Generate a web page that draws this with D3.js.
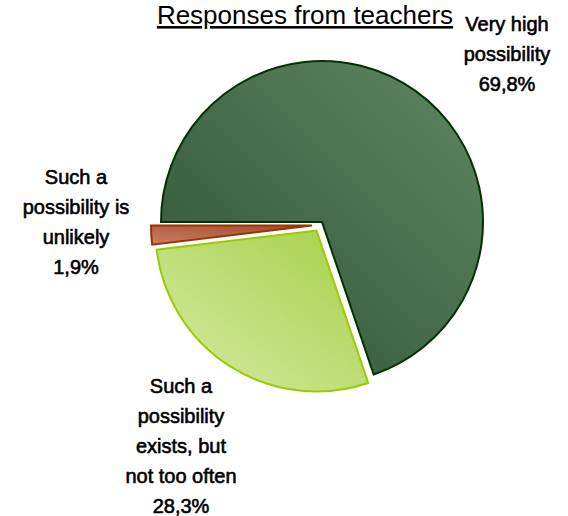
<!DOCTYPE html>
<html>
<head>
<meta charset="utf-8">
<script src="https://cdn.jsdelivr.net/npm/d3@7"></script>
<style>
  html, body { margin: 0; padding: 0; background: #fff; }
  svg { display: block; }
  text { font-family: "Liberation Sans", Arial, sans-serif; fill: #000; }
</style>
</head>
<body>
<svg id="chart" width="568" height="516"></svg>
<script>
// Survey answers and their shares (percent)
const categories = ["Very high possibility", "Such a possibility exists, but not too often", "Such a possibility is unlikely"];
const values = [69.8, 28.3, 1.9];
const valueLabels = ["69,8%", "28,3%", "1,9%"];
const labelLines = [
  ["Very high", "possibility"],
  ["Such a", "possibility", "exists, but", "not too often"],
  ["Such a", "possibility is", "unlikely"]
];
const title = "Responses from teachers";

const W = 568, H = 516;
const cx = 322, cy = 222, R = 161;

// Pulled-out offsets (px) for each slice
const explodeOffsets = [[0, 0], [-5.5, 8.5], [-10, 3.5]];

const svg = d3.select("#chart");
const defs = svg.append("defs");

const palettes = [
  { from: "#2f5234", to: "#5f8763", stroke: "#003300" },
  { from: "#d6eba6", to: "#a6d048", stroke: "#99cc00" },
  { from: "#c98062", to: "#a5482a", stroke: "#993300" }
];
palettes.forEach((p, i) => {
  const g = defs.append("linearGradient")
    .attr("id", "grad" + i)
    .attr("x1", 0).attr("y1", 1).attr("x2", 1).attr("y2", 0);
  g.append("stop").attr("offset", "0%").attr("stop-color", p.from);
  g.append("stop").attr("offset", "100%").attr("stop-color", p.to);
});

// Pie starts at nine o'clock and runs clockwise
const pie = d3.pie()
  .sort(null)
  .startAngle(-Math.PI / 2)
  .endAngle(3 * Math.PI / 2)
  .value(d => d);

const arc = d3.arc().innerRadius(0).outerRadius(R);
const arcs = pie(values);

const slices = svg.append("g").attr("transform", `translate(${cx},${cy})`);
slices.selectAll("path")
  .data(arcs)
  .join("path")
  .attr("transform", (d, i) => `translate(${explodeOffsets[i][0]},${explodeOffsets[i][1]})`)
  .attr("d", arc)
  .attr("fill", (d, i) => `url(#grad${i})`)
  .attr("stroke", (d, i) => palettes[i].stroke)
  .attr("stroke-width", 2)
  .attr("stroke-linejoin", "miter");

// Title
svg.append("text")
  .attr("x", 305).attr("y", 24)
  .attr("text-anchor", "middle")
  .attr("font-size", 26)
  .style("text-decoration", "underline")
  .text(title);

// Slice labels
const labelPos = [
  { x: 507, y: 31 },
  { x: 181, y: 393 },
  { x: 76, y: 184 }
];
const lineGap = 30;
labelLines.forEach((lines, i) => {
  const t = svg.append("text")
    .attr("text-anchor", "middle")
    .attr("font-size", 20)
    .attr("stroke", "#000")
    .attr("stroke-width", 0.6);
  lines.concat([valueLabels[i]]).forEach((s, k) => {
    t.append("tspan")
      .attr("x", labelPos[i].x)
      .attr("y", labelPos[i].y + k * lineGap)
      .text(s);
  });
});
</script>
</body>
</html>
